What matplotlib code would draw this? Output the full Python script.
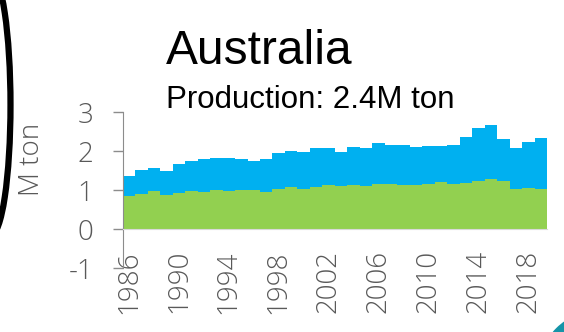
import matplotlib.pyplot as plt
from matplotlib.patches import Arc, Circle

# Australia production, million tons
years = list(range(1986, 2020))
green = [0.84, 0.91, 0.98, 0.88, 0.92, 0.98, 0.95, 1.01, 0.99, 1.00,
         1.00, 0.95, 1.03, 1.08, 1.04, 1.09, 1.13, 1.12, 1.14, 1.11,
         1.17, 1.16, 1.14, 1.14, 1.16, 1.21, 1.15, 1.19, 1.24, 1.29,
         1.23, 1.02, 1.06, 1.03]
total = [1.37, 1.51, 1.57, 1.49, 1.66, 1.75, 1.79, 1.82, 1.82, 1.79,
         1.74, 1.79, 1.95, 2.00, 1.97, 2.07, 2.09, 1.99, 2.12, 2.09,
         2.20, 2.17, 2.15, 2.11, 2.13, 2.14, 2.15, 2.37, 2.60, 2.67,
         2.32, 2.07, 2.24, 2.35]
blue = [t - g for t, g in zip(total, green)]
year_ticks = list(range(1986, 2020, 4))
y_ticks = [-1, 0, 1, 2, 3]

GREEN = '#92D050'
BLUE = '#00B0F0'
GREY = '#595959'
TICKFONT = dict(family=['Open Sans', 'DejaVu Sans'], weight='light')


def main():
    fig = plt.figure(figsize=(5.64, 3.32), dpi=100)
    ax = fig.add_axes([0.2176, 0.192, 0.7524, 0.470])

    # spine position first: moving it resets the ticks
    ax.spines['top'].set_visible(False)
    ax.spines['right'].set_visible(False)
    ax.spines['bottom'].set_position(('data', 0))
    ax.spines['bottom'].set_color('#d9d9d9')
    ax.spines['left'].set_color('#8c8c8c')

    ax.bar(years, green, width=1.0, color=GREEN, linewidth=0)
    ax.bar(years, blue, width=1.0, bottom=green, color=BLUE, linewidth=0)

    ax.set_xlim(1985.5, 2019.5)
    ax.set_ylim(-1, 3)
    ax.set_yticks(y_ticks)
    ax.set_yticklabels([str(v) for v in y_ticks], fontdict=TICKFONT,
                       fontsize=20, color=GREY)
    ax.set_xticks(year_ticks)
    ax.set_xticklabels([str(y) for y in year_ticks], fontdict=TICKFONT,
                       fontsize=20, color=GREY, rotation=90)
    ax.tick_params(axis='x', length=0, pad=15)
    ax.tick_params(axis='y', length=7, width=1, color='#8c8c8c', pad=14)

    fig.text(259.5 / 564, 1 - 64 / 332, 'Australia', ha='center', va='baseline',
             family=['Liberation Sans', 'DejaVu Sans'], fontsize=34.5, color='black')
    fig.text(310 / 564, 1 - 108 / 332, 'Production: 2.4M ton', ha='center',
             va='baseline', family=['Liberation Sans', 'DejaVu Sans'],
             fontsize=22.5, color='black')
    fig.text(32 / 564, 1 - 159 / 332, 'M ton', ha='center', va='center',
             rotation=90, fontsize=20, color=GREY, **TICKFONT)

    # decorative bits around the slide: black arc on the left, teal corner
    deco = fig.add_axes([0, 0, 1, 1], zorder=-1)
    deco.set_xlim(0, 564)
    deco.set_ylim(332, 0)
    deco.axis('off')
    deco.add_patch(Arc((-9, 105), 2 * 19.5, 2 * 130, theta1=-90, theta2=90,
                       color='black', linewidth=4.5))
    deco.add_patch(Circle((600, 372), 62, color='#1594A8', linewidth=0))

    fig.savefig('out.png', dpi=100)


if __name__ == '__main__':
    main()
